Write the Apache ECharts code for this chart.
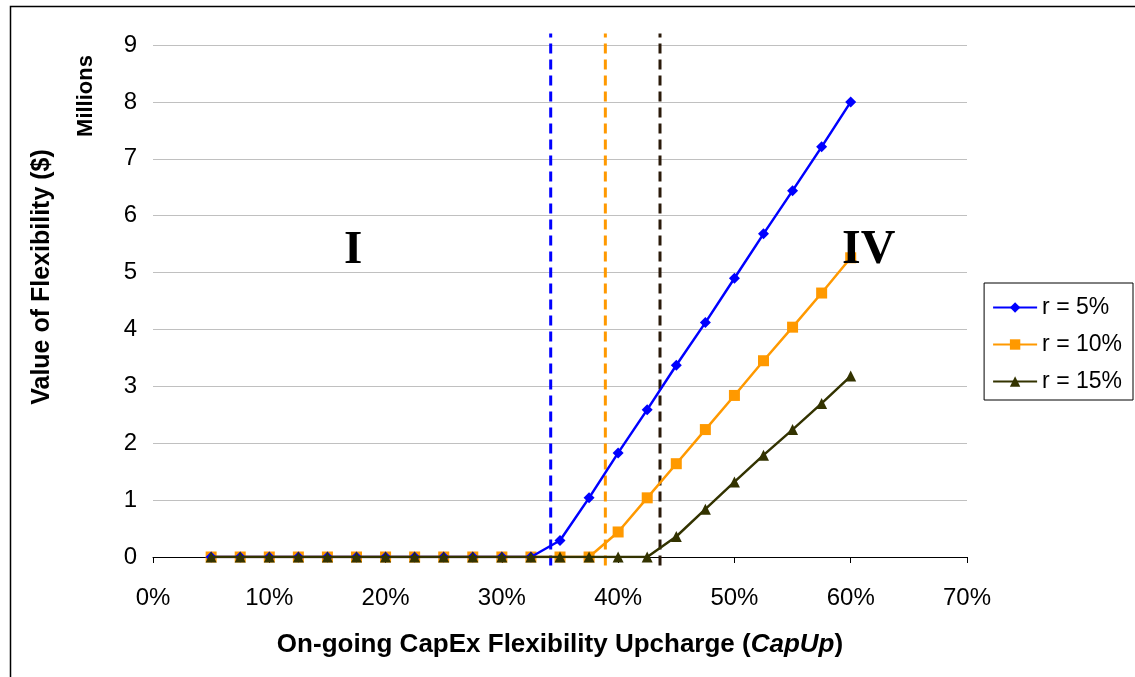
<!DOCTYPE html>
<html><head><meta charset="utf-8">
<script src="https://cdn.jsdelivr.net/npm/echarts@6/dist/echarts.min.js"></script>
<style>html,body{margin:0;padding:0;background:#fff}#c{width:1135px;height:677px}</style>
</head><body><div id="c"></div>
<script>
const capUp = [5,7.5,10,12.5,15,17.5,20,22.5,25,27.5,30,32.5,35,37.5,40,42.5,45,47.5,50,52.5,55,57.5,60];
const r5  = [0,0,0,0,0,0,0,0,0,0,0,0,0.29,1.04,1.83,2.59,3.37,4.12,4.90,5.68,6.44,7.21,8.00];
const r10 = [0,0,0,0,0,0,0,0,0,0,0,0,0,0,0.44,1.04,1.64,2.24,2.84,3.45,4.04,4.64,5.26];
const r15 = [0,0,0,0,0,0,0,0,0,0,0,0,0,0,0,0,0.36,0.84,1.32,1.79,2.24,2.70,3.18];
const thresholds = [34.2, 38.9, 43.6];
const seriesNames = ['r = 5%','r = 10%','r = 15%'];
const colors = ['#0000FF','#FF9900','#333300'];
const xTicks = [0,10,20,30,40,50,60,70];
const yTicks = [0,1,2,3,4,5,6,7,8,9];

const FONT = '"Liberation Sans", Arial, sans-serif';
const pair = (vals) => capUp.map((x,i)=>[x, vals[i]]);
const chart = echarts.init(document.getElementById('c'));
const dashed = thresholds.map((t,i)=>({
  type:'line', data:[[t,-0.15],[t,9.2]], symbol:'none', clip:false, silent:true,
  lineStyle:{color: i===2 ? '#2a1a0a' : colors[i], width:3, type:[10,6]}, z:1
}));
chart.setOption({
  animation:false,
  grid:{left:153, top:45, right:168, bottom:120},
  legend:{
    orient:'vertical', right:2, top:283, itemGap:14,
    backgroundColor:'#fff', borderColor:'#000', borderWidth:1, padding:[13,11,7,8],
    itemWidth:44, itemHeight:13,
    textStyle:{fontFamily:FONT, fontSize:23, color:'#000'},
    data: seriesNames
  },
  xAxis:{
    type:'value', min:0, max:70, interval:10,
    axisLine:{show:true, lineStyle:{color:'#000', width:1}},
    axisTick:{show:true, length:6, lineStyle:{color:'#000'}},
    splitLine:{show:false},
    axisLabel:{formatter:'{value}%', fontFamily:FONT, fontSize:24, color:'#000', margin:29},
    name:'{b|On-going CapEx Flexibility Upcharge (}{i|CapUp}{b|)}',
    nameLocation:'middle', nameGap:75,
    nameTextStyle:{rich:{
      b:{fontFamily:FONT, fontSize:26, fontWeight:'bold', color:'#000'},
      i:{fontFamily:FONT, fontSize:26, fontWeight:'bold', fontStyle:'italic', color:'#000'}
    }}
  },
  yAxis:{
    type:'value', min:0, max:9, interval:1,
    axisLine:{show:false}, axisTick:{show:false},
    splitLine:{show:true, lineStyle:{color:'#c0c0c0', width:1}},
    axisLabel:{fontFamily:FONT, fontSize:24, color:'#000', margin:16}
  },
  graphic:[
    {type:'rect', left:8, top:4, shape:{width:1140, height:700}, style:{fill:'none', stroke:'#000', lineWidth:1.5}, z:-10, silent:true},
    {type:'text', x:42, y:277, rotation:Math.PI/2, style:{text:'Value of Flexibility ($)', font:'bold 25px '+FONT, fill:'#000', align:'center', verticalAlign:'middle'}},
    {type:'text', x:86, y:96, rotation:Math.PI/2, style:{text:'Millions', font:'bold 22px '+FONT, fill:'#000', align:'center', verticalAlign:'middle'}},
    {type:'text', left:344, top:227, style:{text:'I', font:'bold 47px "Liberation Serif", "Times New Roman", serif', fill:'#000'}},
    {type:'text', left:842, top:227, style:{text:'IV', font:'bold 48px "Liberation Serif", "Times New Roman", serif', fill:'#000'}, z:100}
  ],
  series:[
    ...dashed,
    {name:seriesNames[1], type:'line', data:pair(r10), color:colors[1], symbol:'rect', symbolSize:11, lineStyle:{width:2.5}, z:3},
    {name:seriesNames[0], type:'line', data:pair(r5), color:colors[0], symbol:'diamond', symbolSize:11, lineStyle:{width:2.5}, z:4},
    {name:seriesNames[2], type:'line', data:pair(r15), color:colors[2], symbol:'triangle', symbolSize:11, lineStyle:{width:2.5}, z:5}
  ]
});
</script></body></html>
